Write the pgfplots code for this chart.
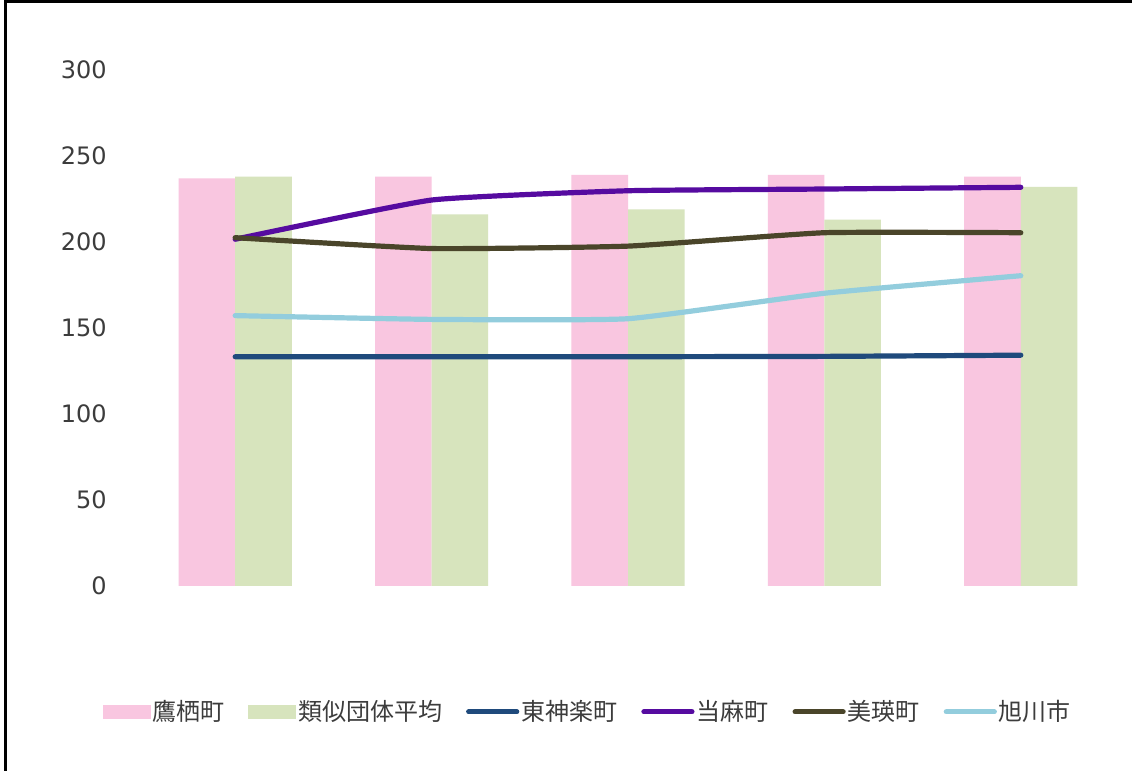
\documentclass[border=0pt]{standalone}
\usepackage{fontspec}
\setmainfont{DejaVu Sans}
\newfontfamily\cjk{Noto Sans CJK JP}
\usepackage{pgfplots}
\pgfplotsset{compat=1.18}

\definecolor{pinkbar}{HTML}{F9C6E0}
\definecolor{greenbar}{HTML}{D7E4BD}
\definecolor{darkblue}{HTML}{1F4A7C}
\definecolor{purpleline}{HTML}{560BA0}
\definecolor{oliveline}{HTML}{4A452A}
\definecolor{lightblue}{HTML}{93CDDD}
\definecolor{textgray}{HTML}{3C3C3C}

\pgfplotsset{
  barlegend/.style={legend image code/.code={\fill[#1] (0pt,-3.25pt) rectangle (23.5pt,3.25pt);}},
  linelegend/.style={legend image code/.code={\draw[#1, line width=2.6pt, line cap=round] (1pt,0pt) -- (25pt,0pt);}},
  chartline/.style={line width=2.6pt, line cap=round, line join=round, smooth, tension=0.25, mark=none},
}

\begin{document}
\begin{tikzpicture}
\useasboundingbox (0,0) rectangle (566pt,385.5pt);
\fill[white] (0,0) rectangle (566pt,385.5pt);

\begin{axis}[
  at={(68.5pt,92.5pt)}, anchor=south west,
  scale only axis, width=491pt, height=258pt,
  % x-axis
  xmin=-0.5, xmax=4.5,
  xtick=\empty,
  % y-axis
  ymin=0, ymax=300,
  ytick={0,50,100,150,200,250,300},
  axis line style={draw=none},
  major tick length=0pt,
  /pgf/number format/assume math mode=true,
  yticklabel style={font=\fontsize{12}{14}\selectfont, text=textgray,
                    inner sep=0pt, xshift=-15pt},
  % legend
  legend columns=6,
  legend cell align=left,
  legend style={at={(0.459,-0.244)}, anchor=center, draw=none, fill=none,
                font=\cjk\fontsize{12}{14}\selectfont, text=textgray,
                nodes={inner sep=1pt},
                /tikz/every even column/.append style={column sep=11pt}},
  ]

  % 鷹栖町
  \addplot[ybar, bar width=0.288, bar shift=-0.144, fill=pinkbar, draw=none, forget plot]
    coordinates {(0,237) (1,238) (2,239) (3,239) (4,238)};
  % 類似団体平均
  \addplot[ybar, bar width=0.288, bar shift=0.144, fill=greenbar, draw=none, forget plot]
    coordinates {(0,238) (1,216) (2,219) (3,213) (4,232)};
  \addlegendimage{barlegend=pinkbar}
  \addlegendimage{barlegend=greenbar}

  % 東神楽町
  \addplot[chartline, color=darkblue, linelegend=darkblue]
    coordinates {(0,133.3) (1,133.3) (2,133.3) (3,133.5) (4,134.2)};
  % 当麻町
  \addplot[chartline, color=purpleline, linelegend=purpleline]
    coordinates {(0,201.6) (1,224.4) (2,229.8) (3,230.8) (4,231.8)};
  % 美瑛町
  \addplot[chartline, color=oliveline, linelegend=oliveline]
    coordinates {(0,202.5) (1,196.2) (2,197.6) (3,205.4) (4,205.4)};
  % 旭川市
  \addplot[chartline, color=lightblue, linelegend=lightblue]
    coordinates {(0,157.2) (1,155) (2,155.4) (3,170.2) (4,180.4)};

  \legend{鷹栖町, 類似団体平均, 東神楽町, 当麻町, 美瑛町, 旭川市}
\end{axis}

% frame: only top and left edges are visible in the reference
\draw[black, line width=1.75pt] (2.75pt,0) -- (2.75pt,385.5pt);
\draw[black, line width=1.5pt] (2pt,384.75pt) -- (566pt,384.75pt);
\end{tikzpicture}
\end{document}
